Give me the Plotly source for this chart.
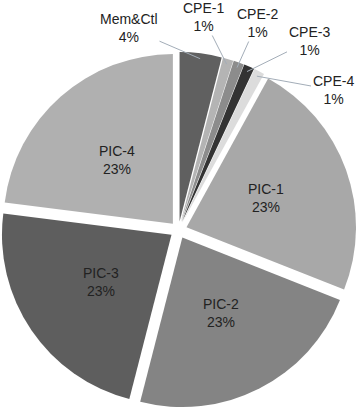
import math
import plotly.graph_objects as go

labels = ["Mem&Ctl", "CPE-1", "CPE-2", "CPE-3", "CPE-4", "PIC-1", "PIC-2", "PIC-3", "PIC-4"]
values = [4, 1, 1, 1, 1, 23, 23, 23, 23]
colors = ["#606060", "#b4b4b4", "#8c8c8c", "#333333", "#dcdcdc",
          "#a8a8a8", "#848484", "#5e5e5e", "#b0b0b0"]
# labels drawn inside the big slices; small slices get callout labels
inside = [False] * 5 + [True] * 4
# callout label centres (pixels, from top-left) for the small slices
callout_pos = {
    "Mem&Ctl": (129, 28),
    "CPE-1": (203, 17),
    "CPE-2": (257, 23),
    "CPE-3": (309, 41),
    "CPE-4": (333, 90),
}

W, H = 357, 408
PULL = 0.05
INSIDE_FRAC = 0.50
total = sum(values)

dom_y = [0, 356 / H]
cx = W / 2
cy = H - (dom_y[0] + dom_y[1]) / 2 * H
r_full = min(W, (dom_y[1] - dom_y[0]) * H) / 2
r = r_full / (1 + PULL)

font = dict(family="Liberation Sans, Arial, sans-serif", size=14, color="#222222")

fig = go.Figure(go.Pie(
    labels=labels,
    values=values,
    sort=False,
    direction="clockwise",
    rotation=0,
    pull=[PULL] * len(values),
    marker=dict(colors=colors, line=dict(width=0)),
    textinfo="none",
    domain=dict(x=[0, 1], y=dom_y),
    showlegend=False,
    hoverinfo="label+percent",
))

annotations = []
cum = 0
for l, v, ins in zip(labels, values, inside):
    mid = 2 * math.pi * (cum + v / 2) / total
    cum += v
    txt = f"{l}<br>{round(100 * v / total)}%"
    sx, sy = math.sin(mid), -math.cos(mid)
    if ins:
        d = r * PULL + r * INSIDE_FRAC
        annotations.append(dict(
            x=(cx + d * sx) / W, y=1 - (cy + d * sy) / H, xref="paper", yref="paper",
            text=txt, showarrow=False, font=font, align="center",
            xanchor="center", yanchor="middle",
        ))
        continue
    tx = cx + r * (1 + PULL) * 0.97 * sx
    ty = cy + r * (1 + PULL) * 0.97 * sy
    lx, ly = callout_pos[l]
    annotations.append(dict(
        x=tx / W, y=1 - ty / H, xref="paper", yref="paper",
        text=txt,
        showarrow=True, arrowhead=0, arrowwidth=1, arrowcolor="#a3adb8",
        ax=lx - tx, ay=ly - ty, font=font, align="center",
    ))

fig.update_layout(
    width=W, height=H,
    margin=dict(l=0, r=0, t=0, b=0),
    paper_bgcolor="white",
    annotations=annotations,
)
fig.write_html("out.html", config={"displayModeBar": False},
               post_script="document.body.style.margin='0';")
